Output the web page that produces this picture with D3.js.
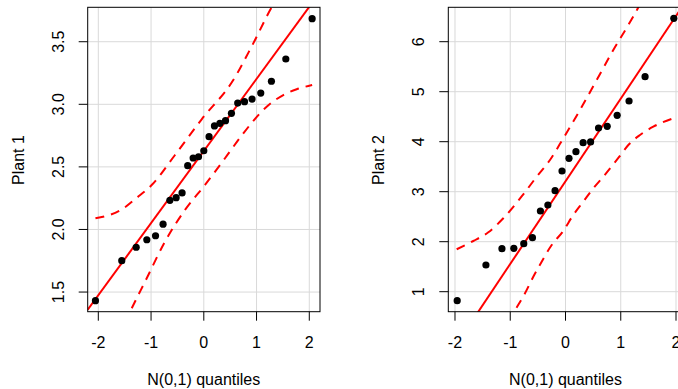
<!DOCTYPE html>
<html>
<head>
<meta charset="utf-8">
<script src="https://cdn.jsdelivr.net/npm/d3@7"></script>
<style>
  body { margin: 0; background: #fff; }
  svg { display: block; font-family: "Liberation Sans", Arial, sans-serif; }
</style>
</head>
<body>
<div id="chart"></div>
<script>
// normal quantiles (x) and sorted sample values (y)
const q1 = [-2.054, -1.555, -1.282, -1.080, -0.915, -0.772, -0.643, -0.524, -0.412, -0.305, -0.202, -0.100, 0,
            0.100, 0.202, 0.305, 0.412, 0.524, 0.643, 0.772, 0.915, 1.080, 1.282, 1.555, 2.054];
const plant1 = [1.431, 1.751, 1.858, 1.918, 1.950, 2.042, 2.233, 2.254, 2.292, 2.510, 2.571, 2.581, 2.629,
                2.741, 2.827, 2.848, 2.869, 2.928, 3.010, 3.021, 3.042, 3.090, 3.184, 3.362, 3.684];

const q2 = [-1.960, -1.440, -1.150, -0.935, -0.755, -0.598, -0.454, -0.319, -0.189, -0.063,
            0.063, 0.189, 0.319, 0.454, 0.598, 0.755, 0.935, 1.150, 1.440, 1.960];
const plant2 = [0.82, 1.534, 1.86, 1.868, 1.96, 2.08, 2.614, 2.734, 3.02, 3.414,
                3.668, 3.80, 3.98, 3.996, 4.274, 4.308, 4.528, 4.814, 5.30, 6.468];

// reference lines (intercept, slope)
const line1 = [2.627, 0.576];
const line2 = [3.208, 1.653];

// confidence envelopes [quantile, value]
const upper1 = [[-2.054, 2.089], [-1.555, 2.16], [-1.28, 2.25], [-0.988, 2.355], [-0.546, 2.595], [-0.04, 2.88],
                [0.559, 3.194], [0.938, 3.487], [1.287, 3.775], [1.555, 3.95], [2.054, 4.48]];
const lower1 = [[-2.054, 0.80], [-1.555, 1.20], [-1.412, 1.33], [-1.082, 1.61], [-0.736, 1.903], [-0.356, 2.156],
                [0.023, 2.356], [0.402, 2.569], [0.749, 2.768], [1.192, 2.981], [1.507, 3.074], [1.761, 3.120], [2.054, 3.154]];
const upper2 = [[-1.969, 1.848], [-1.669, 2.014], [-1.397, 2.188], [-1.126, 2.468], [-0.764, 2.948], [-0.521, 3.30],
                [-0.281, 3.634], [-0.04, 4.068], [0.262, 4.634], [0.565, 5.234], [0.865, 5.834], [1.137, 6.334],
                [1.318, 6.688], [1.589, 7.37], [1.951, 8.4]];
const lower2 = [[-1.969, -1.94], [-1.397, -0.39], [-0.927, 0.6], [-0.733, 0.968], [-0.583, 1.30], [-0.431, 1.60],
                [-0.25, 1.934], [-0.051, 2.20], [0.141, 2.534], [0.322, 2.80], [0.503, 3.068], [0.684, 3.30],
                [0.974, 3.70], [1.137, 3.934], [1.348, 4.134], [1.589, 4.30], [1.951, 4.468]];

const xTicks = [-2, -1, 0, 1, 2];
const yTicks1 = [1.5, 2.0, 2.5, 3.0, 3.5];
const yTicks2 = [1, 2, 3, 4, 5, 6];

const W = 678, H = 389;
const svg = d3.select("#chart").append("svg")
    .attr("width", W)
    .attr("height", H);

function drawPanel(cfg) {
    const x = d3.scaleLinear().domain(cfg.xDomain).range([cfg.left, cfg.right]);
    const y = d3.scaleLinear().domain(cfg.yDomain).range([cfg.bottom, cfg.top]);

    const g = svg.append("g");

    svg.append("clipPath").attr("id", cfg.id)
        .append("rect")
        .attr("x", cfg.left).attr("y", cfg.top)
        .attr("width", cfg.right - cfg.left).attr("height", cfg.bottom - cfg.top);

    // grid
    g.selectAll(".gx").data(xTicks).enter().append("line")
        .attr("x1", d => x(d)).attr("x2", d => x(d))
        .attr("y1", cfg.top).attr("y2", cfg.bottom)
        .attr("stroke", "#d9d9d9").attr("stroke-width", 1);
    g.selectAll(".gy").data(cfg.yTicks).enter().append("line")
        .attr("y1", d => y(d)).attr("y2", d => y(d))
        .attr("x1", cfg.left).attr("x2", cfg.right)
        .attr("stroke", "#d9d9d9").attr("stroke-width", 1);

    const plot = g.append("g").attr("clip-path", `url(#${cfg.id})`);

    // envelope
    const band = d3.line().x(d => x(d[0])).y(d => y(d[1])).curve(d3.curveMonotoneX);
    [cfg.upper, cfg.lower].forEach(b => {
        plot.append("path")
            .attr("d", band(b))
            .attr("fill", "none")
            .attr("stroke", "#ff0000")
            .attr("stroke-width", 2)
            .attr("stroke-dasharray", "9,7");
    });

    // reference line
    plot.append("line")
        .attr("x1", x(cfg.xDomain[0])).attr("y1", y(cfg.line[0] + cfg.line[1] * cfg.xDomain[0]))
        .attr("x2", x(cfg.xDomain[1])).attr("y2", y(cfg.line[0] + cfg.line[1] * cfg.xDomain[1]))
        .attr("stroke", "#ff0000")
        .attr("stroke-width", 2);

    // points
    plot.selectAll("circle").data(cfg.qs).enter().append("circle")
        .attr("cx", d => x(d))
        .attr("cy", (d, i) => y(cfg.vals[i]))
        .attr("r", 3.6)
        .attr("fill", "black");

    // box
    g.append("rect")
        .attr("x", cfg.left).attr("y", cfg.top)
        .attr("width", cfg.right - cfg.left).attr("height", cfg.bottom - cfg.top)
        .attr("fill", "none").attr("stroke", "black").attr("stroke-width", 1);

    // x axis
    g.selectAll(".tx").data(xTicks).enter().append("line")
        .attr("x1", d => x(d)).attr("x2", d => x(d))
        .attr("y1", cfg.bottom).attr("y2", cfg.bottom + 9)
        .attr("stroke", "black");
    g.selectAll(".lx").data(xTicks).enter().append("text")
        .attr("x", d => x(d)).attr("y", 348)
        .attr("text-anchor", "middle")
        .attr("font-size", 16)
        .text(d => d);
    g.append("text")
        .attr("x", (x(-2) + x(2)) / 2).attr("y", 385)
        .attr("text-anchor", "middle")
        .attr("font-size", 16)
        .text("N(0,1) quantiles");

    // y axis
    g.selectAll(".ty").data(cfg.yTicks).enter().append("line")
        .attr("y1", d => y(d)).attr("y2", d => y(d))
        .attr("x1", cfg.left - 9).attr("x2", cfg.left)
        .attr("stroke", "black");
    g.selectAll(".ly").data(cfg.yTicks).enter().append("text")
        .attr("transform", d => `translate(${cfg.left - 24},${y(d)}) rotate(-90)`)
        .attr("text-anchor", "middle")
        .attr("font-size", 16)
        .text(d => cfg.fmt(d));
    g.append("text")
        .attr("transform", `translate(${cfg.labelX},160) rotate(-90)`)
        .attr("text-anchor", "middle")
        .attr("font-size", 16)
        .text(cfg.label);
}

drawPanel({
    id: "clip1", left: 87.7, right: 320, top: 7.3, bottom: 311.7,
    xDomain: [-2.201, 2.203], yDomain: [1.343, 3.775],
    qs: q1, vals: plant1, line: line1, upper: upper1, lower: lower1,
    yTicks: yTicks1, fmt: d3.format(".1f"), label: "Plant 1", labelX: 23.5
});

drawPanel({
    id: "clip2", left: 448.3, right: 682.7, top: 7.3, bottom: 311.7,
    xDomain: [-2.121, 2.121], yDomain: [0.6, 6.688],
    qs: q2, vals: plant2, line: line2, upper: upper2, lower: lower2,
    yTicks: yTicks2, fmt: d3.format("d"), label: "Plant 2", labelX: 383.5
});
</script>
</body>
</html>
